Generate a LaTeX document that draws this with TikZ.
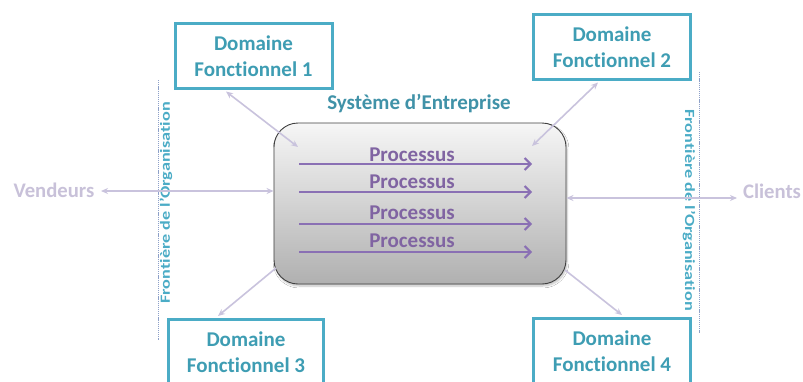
\documentclass[tikz,border=0pt]{standalone}
\usepackage{fontspec}
\setmainfont[Ligatures=NoCommon]{Carlito}
\usetikzlibrary{arrows.meta,shadows.blur}
\definecolor{tealB}{HTML}{4BACC6}
\definecolor{tealT}{HTML}{3E9DB3}
\definecolor{lav}{HTML}{C9C3DD}
\definecolor{lavT}{HTML}{C8C1D9}
\definecolor{purp}{HTML}{8064A2}
\definecolor{purpA}{HTML}{8A70B4}
\definecolor{dotc}{HTML}{8DA0C8}
\definecolor{gtop}{HTML}{F6F6F6}
\definecolor{gbot}{HTML}{B0B0B0}
\tikzset{
  dombox/.style={draw=tealB, line width=3pt, minimum width=157pt, minimum height=65pt,
    align=center, text=tealT, font=\bfseries\fontsize{21}{26.5}\selectfont, inner sep=0pt},
  lavarrow/.style={draw=lav, line width=1.6pt, {Stealth[length=7pt,width=6pt]}-{Stealth[length=7pt,width=6pt]}},
  lavone/.style={draw=lav, line width=1.6pt, -{Stealth[length=7pt,width=6pt]}},
  procarrow/.style={draw=purpA, line width=2pt, -{Straight Barb[length=6pt,width=12pt,line width=2pt]}},
  proctext/.style={text=purp, font=\bfseries\fontsize{21}{24}\selectfont, inner sep=0pt},
  lavtext/.style={text=lavT, font=\bfseries\fontsize{20.7}{24}\selectfont, inner sep=0pt},
  border/.style={draw=dotc, line width=0.8pt, dash pattern=on 1.2pt off 0.9pt},
  fronttext/.style={text=tealB, font=\bfseries\fontsize{14}{16}\selectfont, inner sep=0pt}
}
\begin{document}
\begin{tikzpicture}[x=1pt,y=-1pt]
\useasboundingbox (0,0) rectangle (803,381);
\fill[white] (0,0) rectangle (803,381);

% organisation borders
\draw[border] (158,80) coordinate (bl1) -- (158,340) coordinate (bl2);
\draw[border] (699,72) coordinate (br1) -- (699,333) coordinate (br2);
\node[fronttext, rotate=90] (fl) at (166,203) {\scalebox{1.3}[1]{Frontière de l’Organisation}};
\node[fronttext, rotate=-90] (fr) at (689,210) {\scalebox{1.3}[1]{Frontière de l’Organisation}};

% main system box
\node[draw=black!75, line width=0.9pt, rounded corners=24pt, minimum width=292pt, minimum height=161pt,
  top color=gtop, bottom color=gbot, blur shadow={shadow xshift=1pt, shadow yshift=-2pt, shadow opacity=25, shadow blur steps=6}]
  (sys) at (420,203.5) {};
\node[text=tealB!85!black, font=\bfseries\fontsize{21}{24}\selectfont, inner sep=0pt] (title) at (419,104) {Système d’Entreprise};

% processes
\foreach \i/\y/\ty in {1/164/155,2/192/182,3/224/213,4/252/241}{
  \coordinate (ps\i) at (299,\y);
  \coordinate (pe\i) at (532,\y);
  \node[proctext] (pt\i) at (412,\ty) {Processus};
  \draw[procarrow] (ps\i) -- (pe\i);
}

% domain boxes
\node[dombox] (d1) at (253.5,56) {Domaine\\Fonctionnel 1};
\node[dombox] (d2) at (612,47) {Domaine\\Fonctionnel 2};
\node[dombox, minimum width=155pt] (d3) at (246,352) {Domaine\\Fonctionnel 3};
\node[dombox] (d4) at (612,351) {Domaine\\Fonctionnel 4};

% external parties
\node[lavtext] (vend) at (54,190) {Vendeurs};
\node[lavtext] (cli) at (772,191) {Clients};

% connectors
\coordinate (a1) at (226,91.5);
\coordinate (b1) at (298,147);
\draw[lavarrow] (a1) -- (b1);
\coordinate (a2) at (598,82.5);
\coordinate (b2) at (532,146);
\draw[lavarrow] (a2) -- (b2);
\coordinate (a3) at (276,268);
\coordinate (b3) at (218,316);
\draw[lavone] (a3) -- (b3);
\coordinate (a4) at (565,270);
\coordinate (b4) at (622,315);
\draw[lavone] (a4) -- (b4);
\coordinate (vv) at (101,191);
\draw[lavarrow] (vv) -- (sys.west |- vv);
\coordinate (cc) at (737,198);
\draw[lavarrow] (sys.east |- cc) -- (cc);
\end{tikzpicture}
\end{document}
